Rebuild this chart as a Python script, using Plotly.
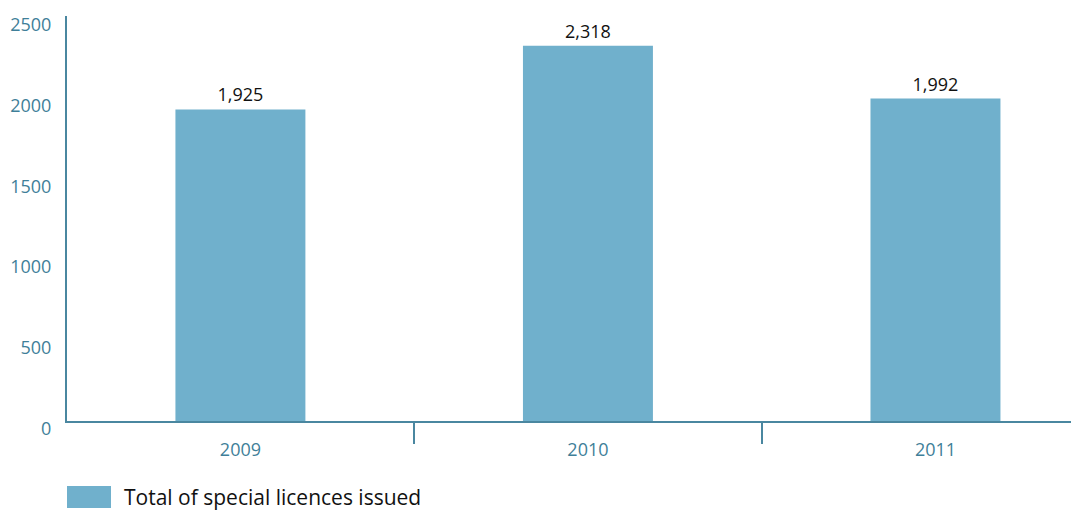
import plotly.graph_objects as go

years = ["2009", "2010", "2011"]
licences = [1925, 2318, 1992]
y_ticks = [0, 500, 1000, 1500, 2000, 2500]
series_name = "Total of special licences issued"

BAR = "#70b0cc"
AXIS = "#4a87a0"
TICKTXT = "#3f7f99"
FONT = "Open Sans"

fig = go.Figure()
fig.add_trace(go.Bar(
    x=years, y=licences, name=series_name,
    marker=dict(color=BAR, line=dict(width=0)),
    width=0.374,
    texttemplate="%{y:,}", textposition="outside",
    textfont=dict(family=FONT, size=18, color="#111111"),
    cliponaxis=False, showlegend=False,
))

W, H = 1071, 510
L, R, T, B = 67, 0, 16, 89
pw, ph = W - L - R, H - T - B

fig.update_layout(
    width=W, height=H,
    margin=dict(l=L, r=R, t=T, b=B, autoexpand=False),
    paper_bgcolor="white", plot_bgcolor="white",
    font=dict(family=FONT, size=18, color=TICKTXT),
    showlegend=False,
    xaxis=dict(
        type="category", range=[-0.499, 2.39], automargin=False,
        showline=True, linecolor=AXIS, linewidth=2,
        ticks="outside", tickson="boundaries", ticklen=21, tickwidth=2, tickcolor=AXIS,
        showgrid=False, zeroline=False,
        tickfont=dict(family=FONT, size=18, color=TICKTXT),
        ticklabelstandoff=11,
    ),
    yaxis=dict(
        range=[0, 2502], tickvals=y_ticks, automargin=False,
        showline=True, linecolor=AXIS, linewidth=2,
        ticks="", showgrid=False, zeroline=False,
        tickfont=dict(family=FONT, size=18, color=TICKTXT),
        ticklabelstandoff=10, ticklabelshift=8, ticklabeloverflow="allow",
    ),
)

# legend swatch + label
fig.add_shape(type="rect", xref="paper", yref="paper",
              x0=0, x1=44 / pw, y0=-(508 - 421) / ph, y1=-(486 - 421) / ph,
              fillcolor=BAR, line=dict(width=0))
fig.add_annotation(xref="paper", yref="paper", x=(122 - 67) / pw, y=-(497 - 421) / ph,
                   xanchor="left", yanchor="middle", showarrow=False,
                   text=series_name, font=dict(family=FONT, size=21, color="#111111"))

fig.write_html("out.html", config={"displayModeBar": False},
               post_script="document.body.style.margin='0';")
